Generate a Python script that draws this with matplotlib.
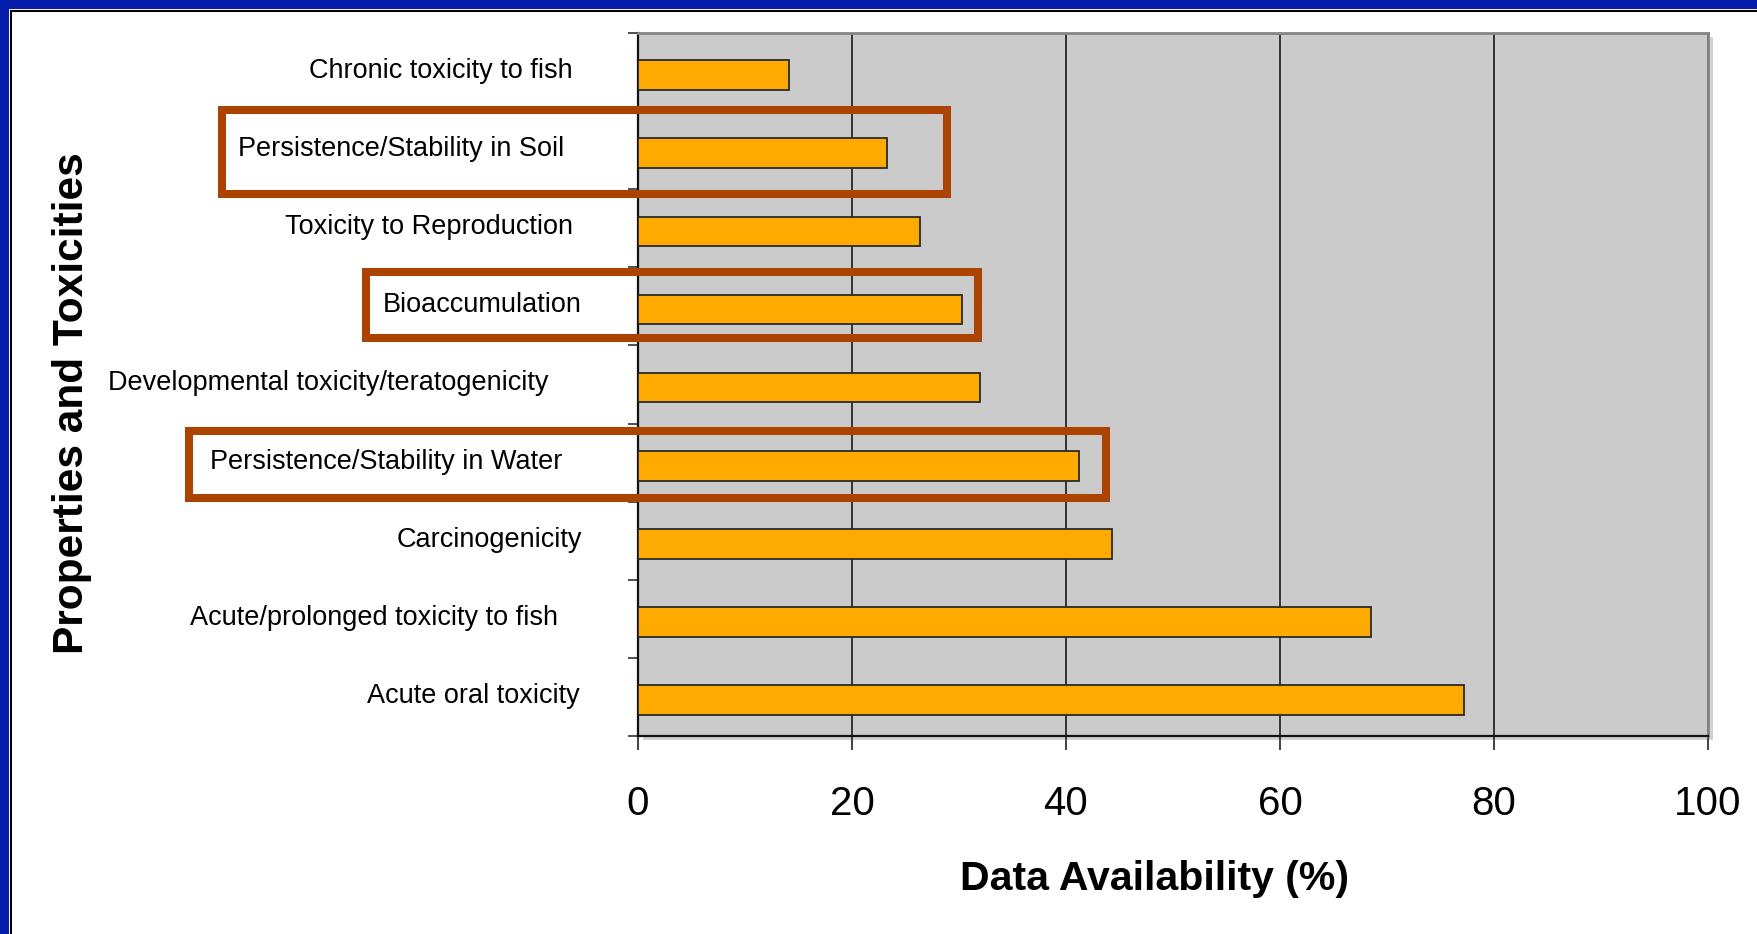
import matplotlib
matplotlib.use("Agg")
import matplotlib.pyplot as plt
from matplotlib.patches import Rectangle
from matplotlib.lines import Line2D
import matplotlib.transforms as mtransforms

plt.rcParams['font.family'] = ['Liberation Sans', 'DejaVu Sans']

# ---- data ----
categories = [
    "Chronic toxicity to fish",
    "Persistence/Stability in Soil",
    "Toxicity to Reproduction",
    "Bioaccumulation",
    "Developmental toxicity/teratogenicity",
    "Persistence/Stability in Water",
    "Carcinogenicity",
    "Acute/prolonged toxicity to fish",
    "Acute oral toxicity",
]
values = [14.1, 23.3, 26.4, 30.3, 32.0, 41.2, 44.3, 68.5, 77.2]
xticks = [0, 20, 40, 60, 80, 100]
xlabel = "Data Availability (%)"
ylabel = "Properties and Toxicities"

# highlighted categories and right edge of each highlight box (in data units)
highlight_cats = ["Persistence/Stability in Soil", "Bioaccumulation",
                  "Persistence/Stability in Water"]
highlight_right = [28.9, 31.8, 43.7]

# ---- layout / style ----
W, H, DPI = 1757, 934, 100
label_gap_px = [65, 74, 65, 56, 90, 76, 56, 80, 58]   # gap from axis to label end
box_left_px = [222, 366, 189]
box_height = [1.07, 0.85, 0.86]
box_center_off = [0.02, -0.02, 0.02]
bar_off = 0.04

fig = plt.figure(figsize=(W / DPI, H / DPI), dpi=DPI)
fig.patch.set_facecolor('white')

ax_l, ax_r, ax_t, ax_b = 638, 1708, 33, 736

# light shadow of the plot area
fig.add_artist(Rectangle(((ax_l + 5) / W, 1 - (ax_b + 4) / H),
                         (ax_r - ax_l) / W, (ax_b - ax_t) / H,
                         transform=fig.transFigure, facecolor='#D2D2D2',
                         edgecolor='none', zorder=0))

ax = fig.add_axes([ax_l / W, 1 - ax_b / H, (ax_r - ax_l) / W, (ax_b - ax_t) / H])
ax.set_facecolor('#CBCBCB')

ypos = [i + bar_off for i in range(len(categories))]
ax.barh(ypos, values, height=0.38, color='#FFAA00', edgecolor='#2a2a2a',
        linewidth=1.3, zorder=3)

ax.set_xlim(0, 100)
ax.set_ylim(len(categories) - 0.5, -0.5)

ax.set_xticks(xticks)
ax.set_xticklabels([str(t) for t in xticks], fontsize=29)
ax.tick_params(axis='x', direction='out', length=10, width=1.2, pad=25,
               color='#222222')
ax.grid(axis='x', color='#1a1a1a', linewidth=1.2, zorder=1)
ax.set_axisbelow(True)

# y ticks at category boundaries, labels drawn separately
ax.set_yticks([i - 0.5 for i in range(len(categories) + 1)])
ax.set_yticklabels([])
ax.tick_params(axis='y', direction='out', length=7, width=1.2, color='#333333')

for s in ['left', 'bottom']:
    ax.spines[s].set_color('#111111')
    ax.spines[s].set_linewidth(1.6)
for s in ['top', 'right']:
    ax.spines[s].set_color('#858585')
    ax.spines[s].set_linewidth(2.0)

# category labels
for i, (cat, gap) in enumerate(zip(categories, label_gap_px)):
    tr = ax.get_yaxis_transform() + mtransforms.ScaledTranslation(
        -gap / DPI, 1 / DPI, fig.dpi_scale_trans)
    ax.text(0, i, cat, transform=tr, ha='right', va='center', fontsize=19.5,
            color='black')

ax.set_xlabel(xlabel, fontsize=29.5, fontweight='bold', va='center')
ax.xaxis.set_label_coords(0.483, -0.204)
ax.set_ylabel(ylabel, fontsize=30.5, fontweight='bold', va='center')
ax.yaxis.set_label_coords(-0.529, 0.474)

# highlight boxes
fig.canvas.draw()
inv = fig.transFigure.inverted()
for cat, xr, lpx, hgt, off in zip(highlight_cats, highlight_right, box_left_px,
                                  box_height, box_center_off):
    i = categories.index(cat)
    yc = i + off
    x1, y1 = inv.transform(ax.transData.transform((xr, yc - hgt / 2)))
    _, y0 = inv.transform(ax.transData.transform((xr, yc + hgt / 2)))
    x0 = lpx / W
    fig.add_artist(Rectangle((x0, y0), x1 - x0, y1 - y0, transform=fig.transFigure,
                             fill=False, edgecolor='#AA4400', linewidth=5.8,
                             zorder=10))

# blue frame with black inner line (top and left)
blue = '#051DA8'
fig.add_artist(Rectangle((0, 1 - 9 / H), 1, 9 / H, transform=fig.transFigure,
                         facecolor=blue, edgecolor='none', zorder=20))
fig.add_artist(Rectangle((0, 0), 9 / W, 1, transform=fig.transFigure,
                         facecolor=blue, edgecolor='none', zorder=20))
fig.add_artist(Line2D([11 / W, 1], [1 - 11 / H, 1 - 11 / H],
                      transform=fig.transFigure, color='black', linewidth=1.5,
                      zorder=20))
fig.add_artist(Line2D([11 / W, 11 / W], [0, 1 - 11 / H],
                      transform=fig.transFigure, color='black', linewidth=1.5,
                      zorder=20))

fig.savefig('out.png', dpi=DPI)
